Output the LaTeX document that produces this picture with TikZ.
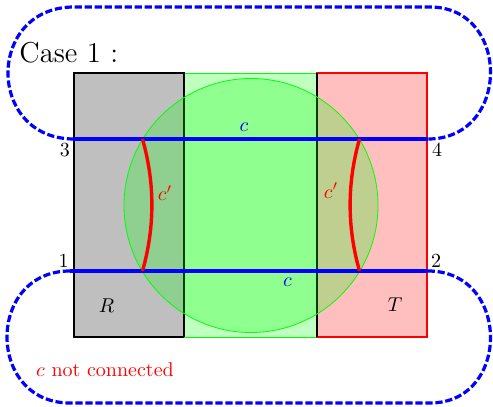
\documentclass[tikz,border=0pt]{standalone}
\begin{document}
\begin{tikzpicture}[x=0.5pt,y=-0.5pt,
  blueline/.style={blue, line width=1.7pt},
  dashloop/.style={blue, line width=1.6pt, dash pattern=on 3.6pt off 1.4pt},
  cprime/.style={red, line width=1.7pt},
  lbl/.style={inner sep=0pt},
  edge/.style={black, semithick}]
\useasboundingbox (0,0) rectangle (493,407);
% regions
\fill[gray!50] (74,73) rectangle (184,337);
\draw[edge] (74,73) rectangle (184,337);
\filldraw[fill=green!25, draw=green, thin] (184,73) rectangle (317,337);
\filldraw[fill=red!25, draw=red, semithick] (317,73) rectangle (427,337);
\draw[edge] (184,73) -- (184,337);
\draw[edge] (317,73) -- (317,337);
% disk
\filldraw[draw=green, fill=green, fill opacity=0.25, thin] (251,205.5) circle[radius=63.5pt];
% points
\coordinate (p3) at (74,139);
\coordinate (p4) at (428,139);
\coordinate (p1) at (70,271);
\coordinate (p2) at (428,271);
\coordinate (a3) at (142.5,139);
\coordinate (a1) at (142.5,271);
\coordinate (b4) at (359.5,139);
\coordinate (b2) at (359.5,271);
% dashed loops
\draw[dashloop] (p3) .. controls (-14,139) and (-14,7) .. (74,7) -- (430,7) .. controls (511,7) and (511,139) .. (p4);
\draw[dashloop] (p1) .. controls (-14,271) and (-14,403) .. (70,403) -- (430,403) .. controls (511,403) and (511,271) .. (p2);
% c lines
\draw[blueline] (p3) -- (p4);
\draw[blueline] (p1) -- (p2);
% c' arcs
\draw[cprime] (a3) .. controls (155,183) and (155,227) .. (a1);
\draw[cprime] (b4) .. controls (347,183) and (347,227) .. (b2);
% labels
\node[lbl, anchor=base west] (case) at (19,62) {\Large Case 1 :};
\node[lbl] (n3) at (65,150) {3};
\node[lbl] (n4) at (437,150) {4};
\node[lbl] (n1) at (63.5,260.5) {1};
\node[lbl] (n2) at (436,261) {2};
\node[lbl] (lr) at (106.5,305.5) {$R$};
\node[lbl] (lt) at (395,304.5) {$T$};
\node[lbl, blue] (ctop) at (244,127) {$c$};
\node[lbl, blue] (cbot) at (287.5,282.5) {$c$};
\node[lbl, red] (cpl) at (165,193) {$c'$};
\node[lbl, red] (cpr) at (331,190.5) {$c'$};
\node[lbl, red, anchor=base] (nc) at (105,376) {$c$ not connected};
\end{tikzpicture}
\end{document}
